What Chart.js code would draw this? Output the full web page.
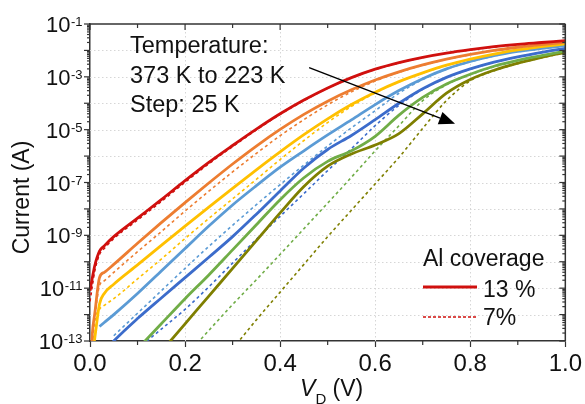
<!DOCTYPE html>
<html>
<head>
<meta charset="utf-8">
<script src="https://cdn.jsdelivr.net/npm/chart.js@4"></script>
<style>
  html, body { margin: 0; background: #fff; }
  canvas { display: block; }
</style>
</head>
<body>
<canvas id="ivChart" width="585" height="404"></canvas>
<script>
/* ================== DATA ================== */
// drain voltage grid (V)
const V = [0, 0.005, 0.01, 0.02, 0.03, 0.05, 0.1, 0.15, 0.2, 0.25, 0.3, 0.35, 0.4,
           0.45, 0.5, 0.55, 0.6, 0.65, 0.7, 0.75, 0.8, 0.85, 0.9, 0.95, 1.0];

// log10 of current (A), null = not measured
const red13 = [-11.1, -10.6, -10.15, -9.6, -9.4, -9.05, -8.35, -7.65, -6.93, -6.24, -5.6, -4.98, -4.4,
               -3.88, -3.42, -3.03, -2.71, -2.46, -2.26, -2.1, -1.97, -1.86, -1.77, -1.7, -1.63];
const red7 = [-11.5, -10.9, -10.35, -9.72, -9.5, -9.12, -8.42, -7.72, -6.99, -6.29, -5.64, -5.01, -4.42,
              -3.9, -3.43, -3.04, -2.72, -2.47, -2.27, -2.11, -1.98, -1.87, -1.78, -1.71, -1.64];
const orange13 = [-14.5, -12.7, -11.97, -10.6, -10.4, -10.1, -9.3, -8.52, -7.76, -7.02, -6.3, -5.62, -4.99,
                  -4.42, -3.92, -3.49, -3.12, -2.81, -2.55, -2.33, -2.15, -2.0, -1.88, -1.78, -1.69];
const orange7 = [-14.5, -12.9, -12.1, -10.9, -10.72, -10.4, -9.62, -8.86, -8.08, -7.33, -6.6, -5.9, -5.23,
                 -4.62, -4.06, -3.57, -3.16, -2.83, -2.56, -2.34, -2.16, -2.01, -1.89, -1.79, -1.7];
const yellow13 = [-14.5, -13.5, -12.9, -11.6, -11.2, -10.85, -10.12, -9.38, -8.65, -7.93, -7.22, -6.52, -5.84,
                  -5.19, -4.59, -4.05, -3.58, -3.18, -2.85, -2.56, -2.33, -2.14, -1.98, -1.86, -1.75];
const yellow7 = [-14.5, -13.3, -12.3, -11.8, -11.65, -11.4, -10.65, -9.9, -9.12, -8.36, -7.62, -6.88, -6.13,
                 -5.41, -4.73, -4.12, -3.61, -3.19, -2.86, -2.57, -2.34, -2.15, -1.99, -1.87, -1.76];
const ltblue13 = [null, null, null, -12.45, -12.3, -12.0, -11.2, -10.35, -9.5, -8.65, -7.85, -7.12, -6.42,
                  -5.8, -5.2, -4.63, -4.05, -3.52, -3.07, -2.7, -2.42, -2.2, -2.04, -1.92, -1.82];
const ltblue7 = [null, null, null, null, null, -12.8, -11.95, -11.1, -10.25, -9.42, -8.62, -7.84, -7.08,
                 -6.34, -5.62, -4.93, -4.28, -3.62, -3.1, -2.71, -2.43, -2.21, -2.05, -1.93, -1.83];
const blue13 = [null, null, null, null, -13.4, -13.0, -12.15, -11.37, -10.6, -9.83, -9.05, -8.2, -7.32,
                -6.45, -5.75, -5.22, -4.62, -4.0, -3.45, -3.02, -2.7, -2.44, -2.24, -2.07, -1.92];
const blue7 = [null, null, null, null, null, null, -13.3, -12.55, -11.8, -10.95, -10.05, -9.15, -8.28,
               -7.42, -6.55, -5.72, -4.85, -4.08, -3.47, -3.03, -2.71, -2.45, -2.25, -2.08, -1.93];
const green13 = [null, null, null, null, null, null, -13.3, -12.35, -11.4, -10.5, -9.55, -8.6, -7.65,
                 -6.82, -6.2, -5.8, -5.25, -4.45, -3.78, -3.27, -2.9, -2.6, -2.38, -2.2, -2.03];
const green7 = [null, null, null, null, null, null, null, null, -13.6, -12.6, -11.62, -10.68, -9.72,
                -8.75, -7.78, -6.8, -5.8, -4.85, -3.9, -3.3, -2.92, -2.62, -2.39, -2.21, -2.04];
const olive13 = [null, null, null, null, null, null, null, -13.4, -12.35, -11.3, -10.25, -9.2, -8.15,
                 -7.15, -6.38, -5.92, -5.58, -5.15, -4.4, -3.62, -3.1, -2.75, -2.48, -2.26, -2.07];
const olive7 = [null, null, null, null, null, null, null, null, null, null, -13.3, -12.2, -11.15,
                -10.1, -9.05, -8.05, -7.05, -6.05, -4.95, -3.9, -3.15, -2.77, -2.5, -2.28, -2.09];

const temps = ["373 K", "348 K", "323 K", "298 K", "273 K", "248 K", "223 K"];
const cov13 = [red13, orange13, yellow13, ltblue13, blue13, green13, olive13];
const cov7 = [red7, orange7, yellow7, ltblue7, blue7, green7, olive7];
const coverages = ["13 %", "7%"];

// axis ticks
const xMajor = [0, 0.2, 0.4, 0.6, 0.8, 1.0];
const xMinor = [0.1, 0.3, 0.5, 0.7, 0.9];
const decades = [-13, -12, -11, -10, -9, -8, -7, -6, -5, -4, -3, -2, -1];
const yLabelExp = [-1, -3, -5, -7, -9, -11, -13];

const noteLines = ["Temperature:", "373 K to 223 K", "Step: 25 K"];

/* ================== STYLE ================== */
const colors = ["#D0100E", "#ED7D31", "#FFC000", "#5B9BD5", "#3C6CCB", "#70AD47", "#7F7F00"];
const FONT = '"Liberation Sans", Arial, sans-serif';
const INK = "#111";
const AXIS = "#333";

/* ================== HELPERS ================== */
function toPoints(arr) {
  return V.map((v, i) => ({ x: v, y: arr[i] == null ? null : Math.pow(10, arr[i]) }));
}

function line(ctx, x1, y1, x2, y2) {
  ctx.beginPath();
  ctx.moveTo(x1, y1);
  ctx.lineTo(x2, y2);
  ctx.stroke();
}

/* ================== DATASETS ================== */
const datasets = [];
cov13.forEach((arr, i) => {
  datasets.push({
    label: temps[i] + " 13 %",
    data: toPoints(arr),
    borderColor: colors[i],
    borderWidth: 2.8,
    order: 0
  });
});
cov7.forEach((arr, i) => {
  datasets.push({
    label: temps[i] + " 7%",
    data: toPoints(arr),
    borderColor: colors[i],
    borderWidth: 1.6,
    borderDash: [3, 3],
    order: 1
  });
});

/* ================== DECORATION PLUGIN ================== */
const paperAxes = {
  id: "paperAxes",
  beforeDraw(chart) {
    const ctx = chart.ctx;
    ctx.save();
    ctx.fillStyle = "#fff";
    ctx.fillRect(0, 0, chart.width, chart.height);
    ctx.restore();
  },
  beforeDatasetsDraw(chart) {
    const { ctx, chartArea: a, scales: { x, y } } = chart;
    ctx.save();
    ctx.strokeStyle = "#d6d6d6";
    ctx.lineWidth = 1;
    ctx.setLineDash([1.5, 2.5]);
    xMajor.slice(1, -1).forEach(v => {
      const px = Math.round(x.getPixelForValue(v)) + 0.5;
      line(ctx, px, a.top, px, a.bottom);
    });
    decades.slice(1, -1).forEach(e => {
      const py = Math.round(y.getPixelForValue(Number("1e" + e))) + 0.5;
      line(ctx, a.left, py, a.right, py);
    });
    ctx.restore();
  },
  afterDraw(chart) {
    const { ctx, chartArea: a, scales: { x, y } } = chart;
    ctx.save();

    // frame top + right
    ctx.strokeStyle = AXIS;
    ctx.lineWidth = 1.5;
    line(ctx, a.left, a.top, a.right, a.top);
    line(ctx, a.right, a.top, a.right, a.bottom);

    // x ticks: bottom outward, top inward
    ctx.lineWidth = 1.2;
    xMajor.forEach(v => {
      const px = x.getPixelForValue(v);
      line(ctx, px, a.top, px, a.top + 6);
    });
    xMinor.forEach(v => {
      const px = x.getPixelForValue(v);
      line(ctx, px, a.bottom, px, a.bottom + 4);
      line(ctx, px, a.top, px, a.top + 4);
    });

    // y ticks: left outward, right inward, log minors
    decades.forEach(e => {
      const py = y.getPixelForValue(Number("1e" + e));
      line(ctx, a.left - 6, py, a.left, py);
      line(ctx, a.right - 6, py, a.right, py);
      if (e < -1) {
        for (let m = 2; m <= 9; m++) {
          const pm = y.getPixelForValue(m * Number("1e" + e));
          line(ctx, a.left - 3, pm, a.left, pm);
          line(ctx, a.right - 3, pm, a.right, pm);
        }
      }
    });

    // y tick labels 10^n
    ctx.fillStyle = INK;
    ctx.textBaseline = "alphabetic";
    const rightEdge = a.left - 7.5;
    yLabelExp.forEach(e => {
      const py = y.getPixelForValue(Number("1e" + e));
      ctx.font = "13px " + FONT;
      const expText = String(e);
      const ew = ctx.measureText(expText).width;
      ctx.textAlign = "left";
      ctx.fillText(expText, rightEdge - ew, py + 2);
      ctx.font = "22px " + FONT;
      ctx.textAlign = "right";
      ctx.fillText("10", rightEdge - ew - 0.5, py + 8);
    });

    // y title
    ctx.save();
    ctx.translate(23, (a.top + a.bottom) / 2 + 15);
    ctx.rotate(-Math.PI / 2);
    ctx.font = "23px " + FONT;
    ctx.textAlign = "center";
    ctx.textBaseline = "middle";
    ctx.fillText("Current (A)", 0, 0);
    ctx.restore();

    // x title: V_D (V)
    ctx.textAlign = "left";
    ctx.textBaseline = "alphabetic";
    const parts = [
      { t: "V", f: "italic 23px " + FONT, dy: 0 },
      { t: "D", f: "15px " + FONT, dy: 8 },
      { t: " (V)", f: "23px " + FONT, dy: 0 }
    ];
    let total = 0;
    parts.forEach(p => { ctx.font = p.f; p.w = ctx.measureText(p.t).width; total += p.w; });
    let tx = (a.left + a.right) / 2 - total / 2 + 4;
    const base = 396;
    parts.forEach(p => {
      ctx.font = p.f;
      ctx.fillText(p.t, tx, base + p.dy);
      tx += p.w;
    });

    // temperature note
    ctx.font = "23.5px " + FONT;
    noteLines.forEach((t, i) => {
      ctx.fillText(t, a.left + 40, a.top + 29 + i * 29.5);
    });

    // arrow
    const x1 = x.getPixelForValue(0.461), y1 = y.getPixelForValue(Math.pow(10, -2.65));
    const x2 = x.getPixelForValue(0.768), y2 = y.getPixelForValue(Math.pow(10, -4.78));
    const ang = Math.atan2(y2 - y1, x2 - x1);
    const headL = 16, headW = 6.5;
    ctx.strokeStyle = "#000";
    ctx.lineWidth = 1.5;
    line(ctx, x1, y1, x2 - headL * Math.cos(ang), y2 - headL * Math.sin(ang));
    ctx.fillStyle = "#000";
    ctx.beginPath();
    ctx.moveTo(x2, y2);
    ctx.lineTo(x2 - headL * Math.cos(ang) + headW * Math.sin(ang), y2 - headL * Math.sin(ang) - headW * Math.cos(ang));
    ctx.lineTo(x2 - headL * Math.cos(ang) - headW * Math.sin(ang), y2 - headL * Math.sin(ang) + headW * Math.cos(ang));
    ctx.closePath();
    ctx.fill();

    // legend
    const lx = a.left + 333;
    ctx.fillStyle = INK;
    ctx.font = "23px " + FONT;
    ctx.fillText("Al coverage", lx, a.top + 242);
    ctx.strokeStyle = colors[0];
    ctx.lineWidth = 3;
    line(ctx, lx, a.top + 263, lx + 54, a.top + 263);
    ctx.lineWidth = 1.5;
    ctx.setLineDash([3, 2]);
    line(ctx, lx, a.top + 293, lx + 54, a.top + 293);
    ctx.setLineDash([]);
    ctx.fillText(coverages[0], lx + 60, a.top + 273);
    ctx.fillText(coverages[1], lx + 60, a.top + 301);

    ctx.restore();
  }
};

/* ================== CHART ================== */
new Chart(document.getElementById("ivChart").getContext("2d"), {
  type: "line",
  data: { datasets },
  options: {
    responsive: false,
    animation: false,
    devicePixelRatio: 1,
    layout: { padding: { left: 0, right: 19, top: 24, bottom: 0 } },
    elements: {
      point: { radius: 0 },
      line: { cubicInterpolationMode: "monotone", fill: false }
    },
    plugins: {
      legend: { display: false },
      tooltip: { enabled: false }
    },
    scales: {
      x: {
        type: "linear",
        min: 0,
        max: 1,
        afterFit: s => { s.height = 63; },
        afterBuildTicks: s => { s.ticks = xMajor.map(v => ({ value: v })); },
        ticks: {
          callback: v => Number(v).toFixed(1),
          font: { family: FONT, size: 24 },
          color: INK,
          padding: 3,
          maxRotation: 0,
          autoSkip: false
        },
        grid: { drawOnChartArea: false, drawTicks: true, tickLength: 6, tickColor: AXIS, tickWidth: 1.2 },
        border: { display: true, color: AXIS, width: 1.5 }
      },
      y: {
        type: "logarithmic",
        min: 1e-13,
        max: 1e-1,
        afterFit: s => { s.width = 90; },
        afterBuildTicks: s => { s.ticks = decades.map(e => ({ value: Number("1e" + e) })); },
        ticks: { display: false },
        grid: { drawOnChartArea: false, drawTicks: false },
        border: { display: true, color: AXIS, width: 1.5 }
      }
    }
  },
  plugins: [paperAxes]
});
</script>
</body>
</html>
